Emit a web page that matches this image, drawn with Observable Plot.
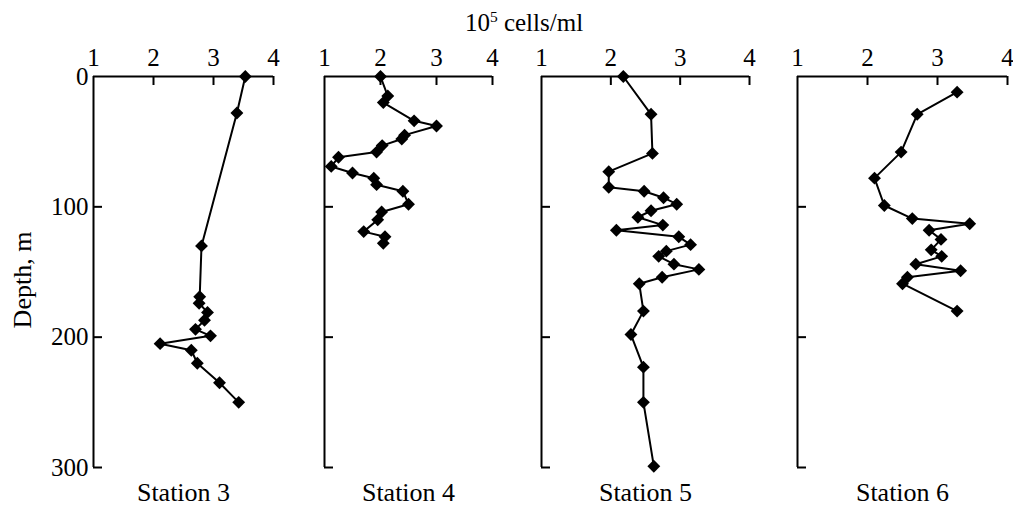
<!DOCTYPE html>
<html>
<head>
<meta charset="utf-8">
<script src="https://cdn.jsdelivr.net/npm/d3@7"></script>
<script src="https://cdn.jsdelivr.net/npm/@observablehq/plot@0.6"></script>
<style>
  html, body { margin: 0; padding: 0; background: #fff; }
  #chart { position: relative; width: 1013px; height: 510px; font-family: "Liberation Serif", "Times New Roman", serif; color: #000; }
  #chart svg { position: absolute; top: 0; overflow: visible; }
  #title { position: absolute; top: 10px; left: 524px; transform: translateX(-50%); font-size: 25px; line-height: 25px; white-space: nowrap; z-index: 2; }
  #title sup { font-size: 0.62em; vertical-align: 0.55em; line-height: 0; }
</style>
</head>
<body>
<div id="chart"><div id="title">10<sup>5</sup> cells/ml</div></div>
<script>
// ---- data (depth in m, abundance in 10^5 cells/ml) ----
const stationLabels = ["Station 3", "Station 4", "Station 5", "Station 6"];

const station3Depth = [0, 28, 130, 169, 174, 181, 187, 194, 199, 205, 210, 220, 235, 250];
const station3Cells = [3.53, 3.39, 2.8, 2.77, 2.76, 2.9, 2.85, 2.7, 2.95, 2.11, 2.63, 2.73, 3.1, 3.42];

const station4Depth = [0, 15, 20, 34, 38, 45, 48, 53, 58, 62, 69, 74, 78, 83, 88, 98, 104, 110, 119, 123, 128];
const station4Cells = [2.0, 2.13, 2.05, 2.6, 3.0, 2.43, 2.38, 2.03, 1.93, 1.25, 1.12, 1.5, 1.88, 1.93, 2.4, 2.5, 2.02, 1.95, 1.7, 2.08, 2.05];

const station5Depth = [0, 29, 59, 73, 85, 88, 93, 98, 103, 108, 114, 118, 123, 129, 134, 138, 144, 148, 154, 159, 180, 198, 223, 250, 299];
const station5Cells = [2.18, 2.58, 2.6, 1.97, 1.97, 2.48, 2.76, 2.95, 2.58, 2.39, 2.75, 2.08, 2.98, 3.15, 2.8, 2.69, 2.91, 3.27, 2.74, 2.41, 2.47, 2.29, 2.47, 2.47, 2.62];

const station6Depth = [12, 29, 58, 78, 99, 109, 113, 118, 125, 133, 138, 144, 149, 154, 159, 180];
const station6Cells = [3.28, 2.71, 2.48, 2.1, 2.24, 2.64, 3.46, 2.88, 3.05, 2.91, 3.06, 2.69, 3.33, 2.57, 2.5, 3.28];

const xTicks = [1, 2, 3, 4];
const yTicks = [0, 100, 200, 300];
const yLabel = "Depth, m";

// ---- layout (pixel frame of each panel) ----
const panels = [
  {depth: station3Depth, cells: station3Cells, label: stationLabels[0], x1: 93, x4: 273, showY: true},
  {depth: station4Depth, cells: station4Cells, label: stationLabels[1], x1: 324, x4: 492, showY: false},
  {depth: station5Depth, cells: station5Cells, label: stationLabels[2], x1: 541, x4: 749, showY: false},
  {depth: station6Depth, cells: station6Cells, label: stationLabels[3], x1: 797, x4: 1007, showY: false}
];

const chart = document.getElementById("chart");

for (const p of panels) {
  const mL = p.showY ? p.x1 : 20;
  const mR = 6;
  const width = mL + (p.x4 - p.x1) + mR;
  const data = p.depth.map((d, i) => ({depth: d, cells: p.cells[i]}));
  const marks = [
    Plot.ruleY([0], {stroke: "black", strokeWidth: 2}),
    Plot.ruleX([1], {stroke: "black", strokeWidth: 2}),
    Plot.ruleX(xTicks.slice(1), {x: d => d, y1: () => 0, y2: () => 0, insetBottom: -9, stroke: "black", strokeWidth: 2}),
    Plot.ruleY(yTicks.slice(1), {y: d => d, x1: () => 1, x2: () => 1, insetRight: -9, stroke: "black", strokeWidth: 2}),
    Plot.axisX({anchor: "top", ticks: xTicks, tickSize: 0, tickPadding: 11, tickFormat: d => String(d), label: null, fontSize: 25}),
    Plot.line(data, {x: "cells", y: "depth", stroke: "black", strokeWidth: 2}),
    Plot.dot(data, {x: "cells", y: "depth", symbol: "diamond2", r: 5.8, fill: "black", stroke: "none"}),
    Plot.text([p.label], {text: d => d, frameAnchor: "bottom", dy: 33, fontSize: 26})
  ];
  if (p.showY) {
    marks.push(Plot.axisY({anchor: "left", ticks: yTicks, tickSize: 0, tickPadding: 5, tickFormat: d => String(d), label: null, fontSize: 25}));
    marks.push(Plot.text([yLabel], {text: d => d, frameAnchor: "left", textAnchor: "middle", rotate: -90, dx: -71, dy: 8, fontSize: 26}));
  }
  const svg = Plot.plot({
    width,
    height: 510,
    marginTop: 76,
    marginBottom: 43,
    marginLeft: mL,
    marginRight: mR,
    x: {domain: [1, 4], axis: null},
    y: {domain: [0, 300], reverse: true, axis: null},
    style: {fontFamily: "'Liberation Serif', 'Times New Roman', serif", fontSize: "25px", color: "black", background: "transparent", overflow: "visible"},
    marks
  });
  svg.style.left = (p.x1 - mL) + "px";
  chart.appendChild(svg);
}
</script>
</body>
</html>
